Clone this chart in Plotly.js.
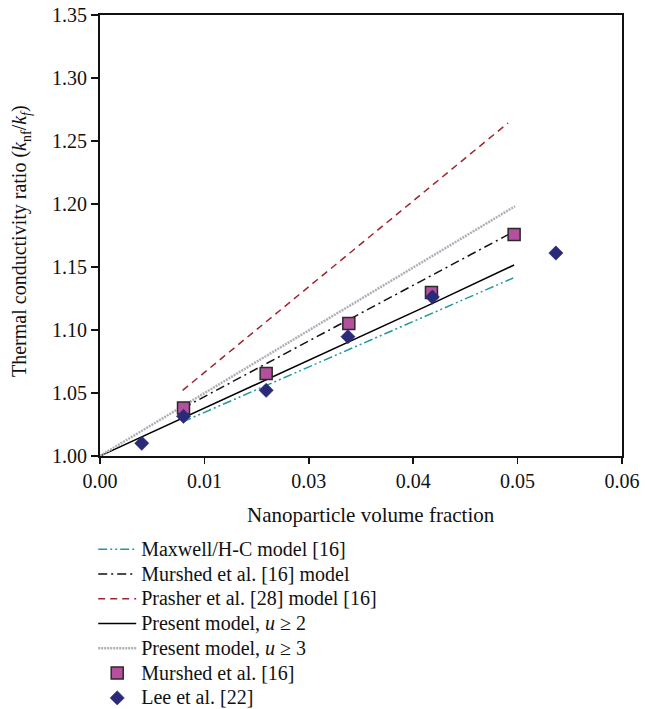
<!DOCTYPE html>
<html>
<head>
<meta charset="utf-8">
<script src="https://cdn.plot.ly/plotly-3.0.1.min.js"></script>
<style>
html,body{margin:0;padding:0;background:#fff}
#chart{width:645px;height:709px}
text.legendtext{font-size:20px !important;}
</style>
</head>
<body>
<div id="chart"></div>
<script>
// x tick positions and their (as printed) labels
const xTickVals = [0, 0.012, 0.024, 0.036, 0.048, 0.06];
const xTickText = ['0.00', '0.01', '0.03', '0.04', '0.05', '0.06'];

// Model curves
const maxwellX = [0.0095, 0.0475];
const maxwellY = [1.0271, 1.1413];

const murshedModelX = [0.0095, 0.0474];
const murshedModelY = [1.0379, 1.1775];

const prasherX = [0.0095, 0.0469];
const prasherY = [1.0521, 1.2643];

const present2X = [0, 0.0381, 0.0476];
const present2Y = [1.0, 1.1207, 1.1516];

const present3X = [0, 0.0477];
const present3Y = [1.0, 1.1982];

// Experimental data
const murshedExpX = [0.0096, 0.0191, 0.0286, 0.0381, 0.0476];
const murshedExpY = [1.0381, 1.0654, 1.1051, 1.1297, 1.1757];

const leeX = [0.0048, 0.0096, 0.0191, 0.0285, 0.0382, 0.0524];
const leeY = [1.0101, 1.0315, 1.0521, 1.0947, 1.1262, 1.1611];

const FONT = 'Liberation Serif, Times New Roman, serif';

const traces = [
  {x: maxwellX, y: maxwellY, mode: 'lines', name: 'Maxwell/H-C model [16]',
   line: {color: '#1f9a9e', width: 1.5, dash: '9px,3px,2px,3px,2px,3px'}},
  {x: murshedModelX, y: murshedModelY, mode: 'lines', name: 'Murshed et al. [16] model',
   line: {color: '#111111', width: 1.5, dash: '9px,4px,2px,4px'}},
  {x: prasherX, y: prasherY, mode: 'lines', name: 'Prasher et al. [28] model [16]',
   line: {color: '#a02530', width: 1.5, dash: '7px,5px'}},
  {x: present2X, y: present2Y, mode: 'lines', name: 'Present model, <i>u</i> ≥ 2',
   line: {color: '#000000', width: 1.5}},
  {x: present3X, y: present3Y, mode: 'lines', name: 'Present model, <i>u</i> ≥ 3',
   line: {color: '#afafba', width: 2.5, dash: '2px,1px'}},
  {x: murshedExpX, y: murshedExpY, mode: 'markers', name: 'Murshed et al. [16]',
   marker: {symbol: 'square', size: 12, color: '#b4509e', line: {color: '#2a2a2a', width: 1.5}}},
  {x: leeX, y: leeY, mode: 'markers', name: 'Lee et al. [22]',
   marker: {symbol: 'diamond', size: 11, color: '#2b2a78', line: {color: '#2b2a78', width: 0.5}}}
];

const layout = {
  width: 645, height: 709,
  margin: {l: 100, r: 23, t: 15, b: 253, pad: 0, autoexpand: false},
  paper_bgcolor: '#ffffff', plot_bgcolor: '#ffffff',
  font: {family: FONT, size: 20, color: '#111'},
  showlegend: true,
  xaxis: {
    range: [0, 0.06], tickvals: xTickVals, ticktext: xTickText,
    ticks: 'outside', ticklen: 6, tickwidth: 1.5, tickcolor: '#111',
    showline: true, linecolor: '#111', linewidth: 2, mirror: true,
    showgrid: false, zeroline: false,
    tickfont: {family: FONT, size: 20, color: '#111'}
  },
  yaxis: {
    range: [1.0, 1.35], dtick: 0.05, tickformat: '.2f',
    ticks: 'outside', ticklen: 7, tickwidth: 1.5, tickcolor: '#111',
    showline: true, linecolor: '#111', linewidth: 2, mirror: true,
    showgrid: false, zeroline: false,
    tickfont: {family: FONT, size: 20, color: '#111'}
  },
  annotations: [
    {text: 'Nanoparticle volume fraction', xref: 'paper', yref: 'paper',
     x: 0.519, y: -0.134, xanchor: 'center', yanchor: 'middle', showarrow: false,
     font: {family: FONT, size: 21, color: '#111'}},
    {text: 'Thermal conductivity ratio (<i>k</i><sub>nf</sub>/<i>k</i><sub><i>f</i></sub>)',
     xref: 'paper', yref: 'paper', x: -0.151, y: 0.488, xanchor: 'center', yanchor: 'middle',
     textangle: -90, showarrow: false, font: {family: FONT, size: 20, color: '#111'}}
  ],
  legend: {
    x: -0.013, y: -0.172, xanchor: 'left', yanchor: 'top',
    bgcolor: 'rgba(0,0,0,0)', borderwidth: 0,
    font: {family: FONT, size: 16.75, color: '#111'},
    tracegroupgap: 0, itemwidth: 38
  }
};

Plotly.newPlot('chart', traces, layout, {displayModeBar: false, staticPlot: true});
</script>
</body>
</html>
